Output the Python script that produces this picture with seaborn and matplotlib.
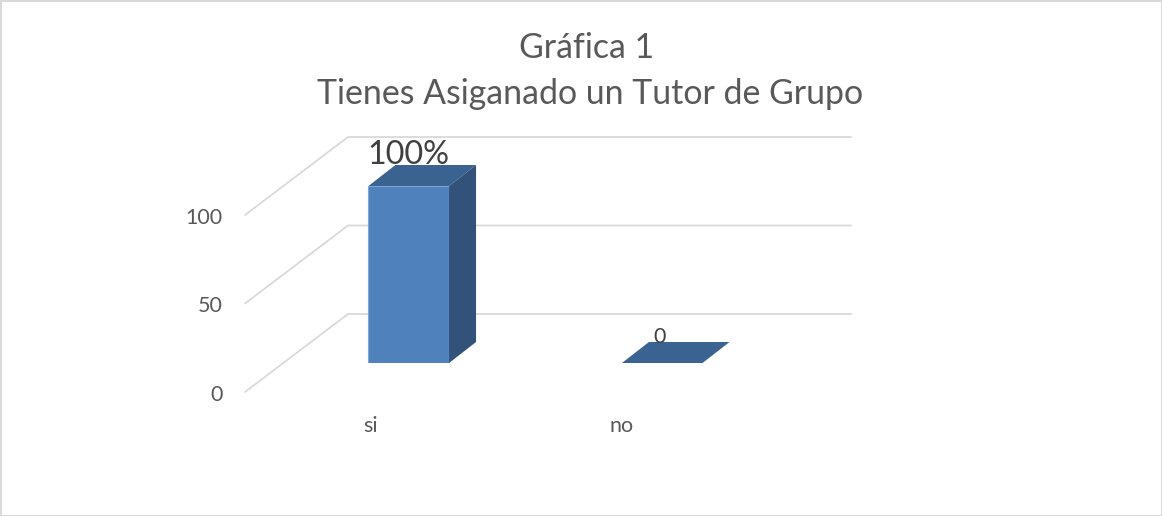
#!/usr/bin/env python3
"""Excel-style 3D column chart: Gráfica 1, Tienes Asiganado un Tutor de Grupo."""
import matplotlib.pyplot as plt
import numpy as np
import pandas as pd
import seaborn as sns
from matplotlib.patches import Polygon
from matplotlib.transforms import Affine2D

categories = ["si", "no"]
values = [100, 0]
value_labels = ["100%", "0"]
y_ticks = [0, 50, 100]

FONT = "Lato"
GRID = "#d9d9d9"
TEXT = "#595959"
FRONT = "#4f81bd"
SIDE = "#325279"
TOP = "#3a6391"

# pixel offsets of the fake depth
BAR_DEPTH = np.array([27, 21])
FLOOR_FRONT = (-37, -29)
FLOOR_BACK = (66, 49)
WALL_END = (62, 49)


def pix(ax, x, y, off=(0, 0)):
    return ax.transData.transform((x, y)) + np.array(off)


def main():
    sns.set_theme(style="white")
    plt.rcParams["font.family"] = [FONT, "DejaVu Sans"]

    W, H = 1162, 516
    fig = plt.figure(figsize=(W / 100, H / 100), dpi=100, facecolor="white")
    fig.patch.set_edgecolor(GRID)
    fig.patch.set_linewidth(2)
    ax = fig.add_axes([282 / W, (H - 363) / H, 507 / W, 177 / H])

    df = pd.DataFrame({"answer": categories, "pct": values})
    sns.barplot(data=df, x="answer", y="pct", ax=ax, color=FRONT, saturation=1,
                width=0.318, edgecolor="#7ea6d6", linewidth=0.8, zorder=4)
    ax.set_xlim(-0.5, 1.5)
    ax.set_ylim(0, 100)
    ax.set_xlabel("")
    ax.set_ylabel("")
    ax.patch.set_visible(False)
    sns.despine(ax=ax, left=True, bottom=True)

    # walls: back wall line plus the diagonal on the side wall
    x0, x1 = ax.get_xlim()
    for v in y_ticks:
        pts = np.array([pix(ax, x0, v, FLOOR_FRONT), pix(ax, x0, v, FLOOR_BACK),
                        pix(ax, x1, v, WALL_END)])
        ax.plot(pts[:, 0], pts[:, 1], color=GRID, lw=1.3, transform=None,
                clip_on=False, zorder=1)

    # top and side faces built from the seaborn bars
    for bar, label in zip(ax.patches, value_labels):
        bx0, bx1 = bar.get_x(), bar.get_x() + bar.get_width()
        h = bar.get_height()
        a, b = pix(ax, bx0, h), pix(ax, bx1, h)
        c = pix(ax, bx1, 0)
        ax.add_patch(Polygon([a, b, b + BAR_DEPTH, a + BAR_DEPTH], closed=True, fc=TOP,
                             ec="none", transform=None, clip_on=False, zorder=5))
        if h > 0:
            ax.add_patch(Polygon([b, b + BAR_DEPTH, c + BAR_DEPTH, c], closed=True, fc=SIDE,
                                 ec="none", transform=None, clip_on=False, zorder=5))
        big = h > 0
        ax.annotate(label, (bx0 + bar.get_width() / 2, h), xycoords="data",
                    xytext=(0, 31) if big else (-3, 26), textcoords="offset pixels",
                    ha="center", va="center", fontsize=23.3 if big else 15.5,
                    color="#404040", zorder=6, annotation_clip=False)

    # tick labels sit on the front edge of the floor, not on the bar plane
    ax.set_yticks(y_ticks)
    ax.tick_params(axis="x", length=0, pad=38, labelsize=15.5, labelcolor=TEXT)
    ax.tick_params(axis="y", length=0, pad=16, labelsize=15.5, labelcolor=TEXT)
    for lab, dx in zip(ax.get_xticklabels(), (-38, -41)):
        lab.set_transform(lab.get_transform() + Affine2D().translate(dx, 0))
    for lab in ax.get_yticklabels():
        lab.set_transform(lab.get_transform() + Affine2D().translate(-37, -30))

    fig.text(587 / W, 1 - 48 / H, "Gráfica 1", ha="center", va="center", fontsize=24.4, color=TEXT)
    fig.text(590 / W, 1 - 94 / H, "Tienes Asiganado un Tutor de Grupo", ha="center", va="center",
             fontsize=24.4, color=TEXT)

    fig.savefig("out.png", dpi=100, facecolor="white", edgecolor=GRID)


if __name__ == "__main__":
    main()
